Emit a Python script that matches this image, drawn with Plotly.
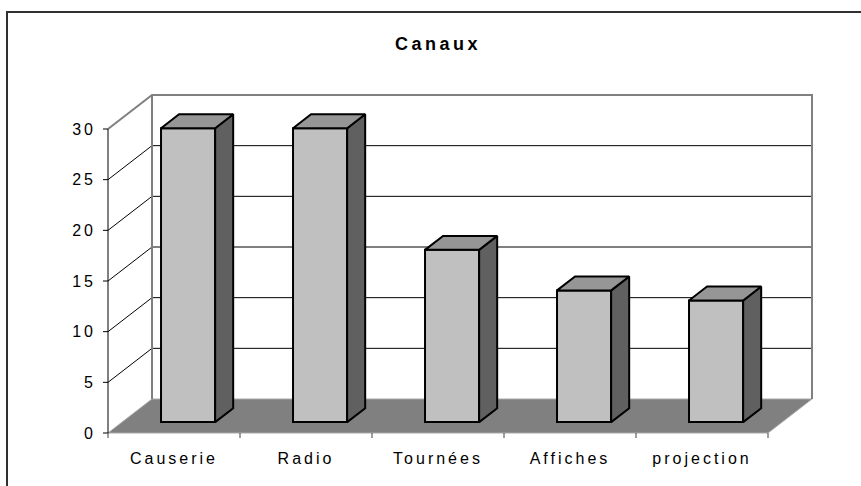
import plotly.graph_objects as go

# ---------------- data ----------------
categories = ["Causerie", "Radio", "Tournées", "Affiches", "projection"]
values = [29, 29, 17, 13, 12]
y_ticks = [0, 5, 10, 15, 20, 25, 30]
title_text = "Canaux"

# ---------------- geometry (pixel layout of the pseudo-3D frame) ----------------
W, H = 861, 486
ORIGIN_PX = (108, 433)          # front-left floor corner
SX = 132.0                      # px per category
YMAX = 30
SY = 304.0 / YMAX               # px per value unit
DXPX, DYPX = 44.0, 34.0         # oblique depth vector in px
DX, DY = DXPX / SX, DYPX / SY   # depth vector in data units
N = len(categories)
D0, D1 = 0.32, 0.73             # bar depth (fraction of full depth)
BW = 0.41                       # bar width (fraction of category)
PAD = 7

left_px = ORIGIN_PX[0] - PAD
right_px = ORIGIN_PX[0] + N * SX + DXPX + PAD
top_px = ORIGIN_PX[1] - YMAX * SY - DYPX - PAD
bottom_px = ORIGIN_PX[1] + PAD

xr = [-PAD / SX, (right_px - ORIGIN_PX[0]) / SX]
yr = [-PAD / SY, (ORIGIN_PX[1] - top_px) / SY]

FONT = "Liberation Sans, Arial, sans-serif"

shapes = []
def path(pts, close=False):
    s = "M " + " L ".join(f"{x},{y}" for x, y in pts)
    return s + (" Z" if close else "")

# back wall (white)
shapes.append(dict(type="path", xref="x", yref="y", layer="below",
                   path=path([(DX, DY), (N + DX, DY), (N + DX, YMAX + DY), (DX, YMAX + DY)], True),
                   fillcolor="white", line=dict(width=0)))
# gridlines on side wall and back wall
for v in y_ticks[1:-1]:
    shapes.append(dict(type="path", xref="x", yref="y", layer="below",
                       path=path([(0, v), (DX, v + DY), (N + DX, v + DY)]),
                       line=dict(color="black", width=1)))
# floor
shapes.append(dict(type="path", xref="x", yref="y", layer="below",
                   path=path([(0, 0), (N, 0), (N + DX, DY), (DX, DY)], True),
                   fillcolor="#808080", line=dict(color="#a8a8a8", width=1)))
# wall edges (gray)
shapes.append(dict(type="path", xref="x", yref="y", layer="below",
                   path=path([(DX, DY), (DX, YMAX + DY)]),
                   line=dict(color="#808080", width=2)))
shapes.append(dict(type="path", xref="x", yref="y", layer="below",
                   path=path([(0, YMAX), (DX, YMAX + DY), (N + DX, YMAX + DY), (N + DX, DY)]),
                   line=dict(color="#808080", width=2)))
# front value axis
shapes.append(dict(type="path", xref="x", yref="y", layer="below",
                   path=path([(0, 0), (0, YMAX)]),
                   line=dict(color="black", width=1)))
# value axis ticks
for v in y_ticks:
    shapes.append(dict(type="path", xref="x", yref="y", layer="below",
                       path=path([(0, v), (-5 / SX, v)]),
                       line=dict(color="black", width=1)))
# category axis ticks
for k in range(N + 1):
    shapes.append(dict(type="path", xref="x", yref="y", layer="below",
                       path=path([(k, 0), (k, -5 / SY)]),
                       line=dict(color="#404040", width=1)))

# outer chart border (top and left visible)
pw = right_px - left_px
ph = bottom_px - top_px
def px2paper_x(px): return (px - left_px) / pw
def px2paper_y(py): return (bottom_px - py) / ph
shapes.append(dict(type="rect", xref="paper", yref="paper", layer="below",
                   x0=px2paper_x(7), x1=px2paper_x(880), y0=px2paper_y(520), y1=px2paper_y(12),
                   line=dict(color="#303030", width=2), fillcolor="rgba(0,0,0,0)"))

fig = go.Figure()

# bar front faces
xc = [i + 0.5 + D0 * DX for i in range(N)]
fig.add_trace(go.Bar(x=xc, y=values, base=[D0 * DY] * N, width=BW,
                     marker=dict(color="#C0C0C0", line=dict(color="black", width=2)),
                     hoverinfo="skip", showlegend=False))

# side and top faces
ddx, ddy = (D1 - D0) * DX, (D1 - D0) * DY
sx, sy, tx, ty = [], [], [], []
for i, v in enumerate(values):
    xl = xc[i] - BW / 2
    xrr = xc[i] + BW / 2
    b = D0 * DY
    t = v + D0 * DY
    sx += [xrr, xrr + ddx, xrr + ddx, xrr, xrr, None]
    sy += [b, b + ddy, t + ddy, t, b, None]
    tx += [xl, xrr, xrr + ddx, xl + ddx, xl, None]
    ty += [t, t, t + ddy, t + ddy, t, None]
fig.add_trace(go.Scatter(x=sx, y=sy, mode="lines", fill="toself", fillcolor="#606060",
                         line=dict(color="black", width=2), hoverinfo="skip", showlegend=False))
fig.add_trace(go.Scatter(x=tx, y=ty, mode="lines", fill="toself", fillcolor="#969696",
                         line=dict(color="black", width=2), hoverinfo="skip", showlegend=False))

fig.update_layout(
    width=W, height=H,
    margin=dict(l=left_px, r=W - right_px, t=top_px, b=H - bottom_px, pad=0),
    paper_bgcolor="white", plot_bgcolor="white",
    barmode="overlay",
    shapes=shapes,
    title=dict(text=title_text, x=438 / W, xref="container", xanchor="center",
               y=1 - 44 / H, yref="container", yanchor="middle",
               font=dict(family=FONT, size=18, color="black", weight="bold")),
    font=dict(family=FONT, size=16, color="black"),
    xaxis=dict(range=xr, showgrid=False, zeroline=False, showline=False,
               tickvals=[i + 0.5 for i in range(N)], ticktext=categories,
               ticks="", ticklabelstandoff=7, automargin=False, fixedrange=True),
    yaxis=dict(range=yr, showgrid=False, zeroline=False, showline=False,
               tickvals=y_ticks, ticks="", ticklabelstandoff=4,
               automargin=False, fixedrange=True),
)

post = ("var s=document.createElement('style');"
        "s.textContent='html,body{margin:0;padding:0;overflow:hidden}"
        ".xtick text,.ytick text{letter-spacing:3px}.gtitle{letter-spacing:3.5px}';"
        "document.head.appendChild(s);")
fig.write_html("out.html", post_script=post, config={"displayModeBar": False})
